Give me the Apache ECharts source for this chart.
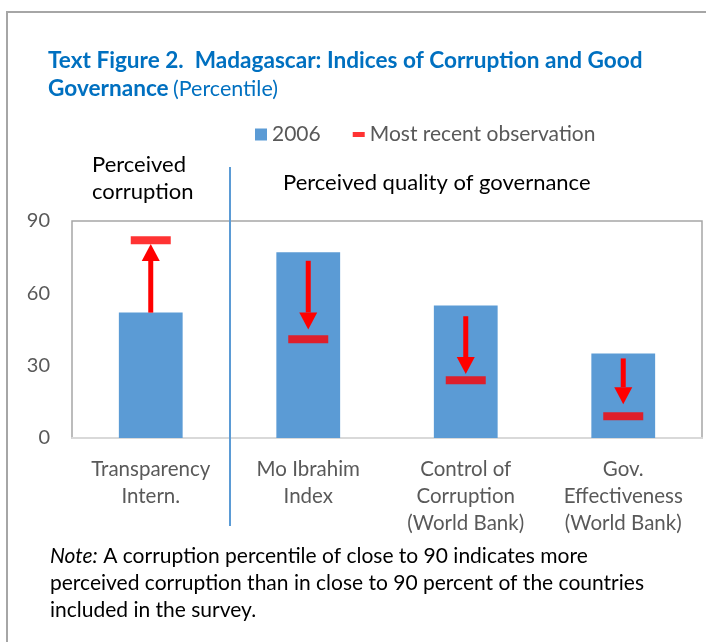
<!DOCTYPE html>
<html><head><meta charset="utf-8">
<script src="https://cdn.jsdelivr.net/npm/echarts@6/dist/echarts.min.js"></script>
<style>html,body{margin:0;padding:0;background:#fff}#c{width:706px;height:642px}</style>
</head><body><div id="c"></div>
<script>
var categories = ['Transparency\nIntern.', 'Mo Ibrahim\nIndex', 'Control of\nCorruption\n(World Bank)', 'Gov.\nEffectiveness\n(World Bank)'];
var values2006 = [52, 77, 55, 35];
var latestValues = [82, 41, 24, 9];
var arrowStart = [52, 73.5, 50.5, 33];
var arrowEnd = [80.5, 45, 26.5, 14];
var yTicks = [0, 30, 60, 90];

var FONT = 'Lato';
var chart = echarts.init(document.getElementById('c'));
chart.setOption({
  animation: false,
  textStyle: {fontFamily: FONT},
  grid: {left: 72, top: 221, right: 4, bottom: 204, show: true, borderColor: '#a6a6a6', borderWidth: 1.5},
  title: {
    left: 43, top: 42,
    text: '{b|Text Figure 2.  Madagascar: Indices of Corruption and Good}\n{b|Governance} {n|(Percentile)}',
    textStyle: {
      rich: {
        b: {fontFamily: FONT, fontWeight: 'bold', fontSize: 22.6, color: '#0070C0', lineHeight: 28},
        n: {fontFamily: FONT, fontWeight: 'normal', fontSize: 21.5, color: '#0070C0', lineHeight: 28}
      }
    }
  },
  legend: {
    left: 250, top: 119, itemWidth: 12, itemHeight: 12, itemGap: 32,
    textStyle: {fontFamily: FONT, fontSize: 21, color: '#595959'},
    data: [{name: '2006', icon: 'rect'}, {name: 'Most recent observation', icon: 'path://M0,0H12V5H0Z'}]
  },
  xAxis: {
    type: 'category', data: categories,
    axisLine: {lineStyle: {color: '#d9d9d9', width: 2}},
    axisTick: {show: false},
    axisLabel: {fontFamily: FONT, fontSize: 20.5, color: '#595959', lineHeight: 27, margin: 18, interval: 0}
  },
  yAxis: {
    type: 'value', min: yTicks[0], max: yTicks[yTicks.length - 1], interval: 30,
    splitLine: {show: false},
    axisLine: {show: false}, axisTick: {show: false},
    axisLabel: {fontFamily: FONT, fontSize: 20, color: '#595959', margin: 22}
  },
  series: [
    {name: '2006', type: 'bar', data: values2006, barWidth: '40.5%', itemStyle: {color: '#5B9BD5'}},
    {name: 'Most recent observation', type: 'scatter', data: latestValues, symbol: 'rect', symbolSize: [40, 8], itemStyle: {color: '#FF0000'}, z: 5},
    {
      type: 'custom', z: 4, silent: true,
      data: categories.map(function (c, i) { return [i, arrowStart[i], arrowEnd[i]]; }),
      renderItem: function (params, api) {
        var s = api.coord([api.value(0), api.value(1)]);
        var e = api.coord([api.value(0), api.value(2)]);
        var dir = e[1] < s[1] ? -1 : 1;
        var headLen = 17, headW = 9;
        var baseY = e[1] - dir * headLen;
        return {type: 'group', children: [
          {type: 'line', shape: {x1: s[0], y1: s[1], x2: s[0], y2: baseY}, style: {stroke: '#FF0000', lineWidth: 5}},
          {type: 'polygon', shape: {points: [[e[0] - headW, baseY], [e[0] + headW, baseY], [e[0], e[1]]]}, style: {fill: '#FF0000'}}
        ]};
      }
    },
    {
      type: 'custom', z: 6, silent: true, clip: false,
      data: [[0]],
      renderItem: function (params, api) {
        var x = Math.round(api.coord([0, 0])[0] + api.size([1, 0])[0] / 2);
        var cs = params.coordSys;
        return {type: 'line', shape: {x1: x, y1: cs.y - 54, x2: x, y2: cs.y + cs.height + 88}, style: {stroke: '#5B9BD5', lineWidth: 2}};
      }
    }
  ],
  graphic: [
    {type: 'rect', shape: {x: 7, y: 12, width: 720, height: 660}, style: {fill: null, stroke: '#a6a6a6', lineWidth: 2}, silent: true},
    {type: 'text', left: 92, top: 151, style: {text: 'Perceived\ncorruption', fontFamily: FONT, fontSize: 22, fill: '#000', lineHeight: 27}},
    {type: 'text', left: 283, top: 172, style: {text: 'Perceived quality of governance', fontFamily: FONT, fontSize: 22, fill: '#000'}},
    {type: 'text', left: 50, top: 543, style: {
      text: '{i|Note:} A corruption percentile of close to 90 indicates more\nperceived corruption than in close to 90 percent of the countries\nincluded in the survey.',
      rich: {i: {fontStyle: 'italic', fontFamily: FONT, fontSize: 21, fill: '#000', lineHeight: 27}},
      fontFamily: FONT, fontSize: 21, fill: '#000', lineHeight: 27}}
  ]
});
</script></body></html>
